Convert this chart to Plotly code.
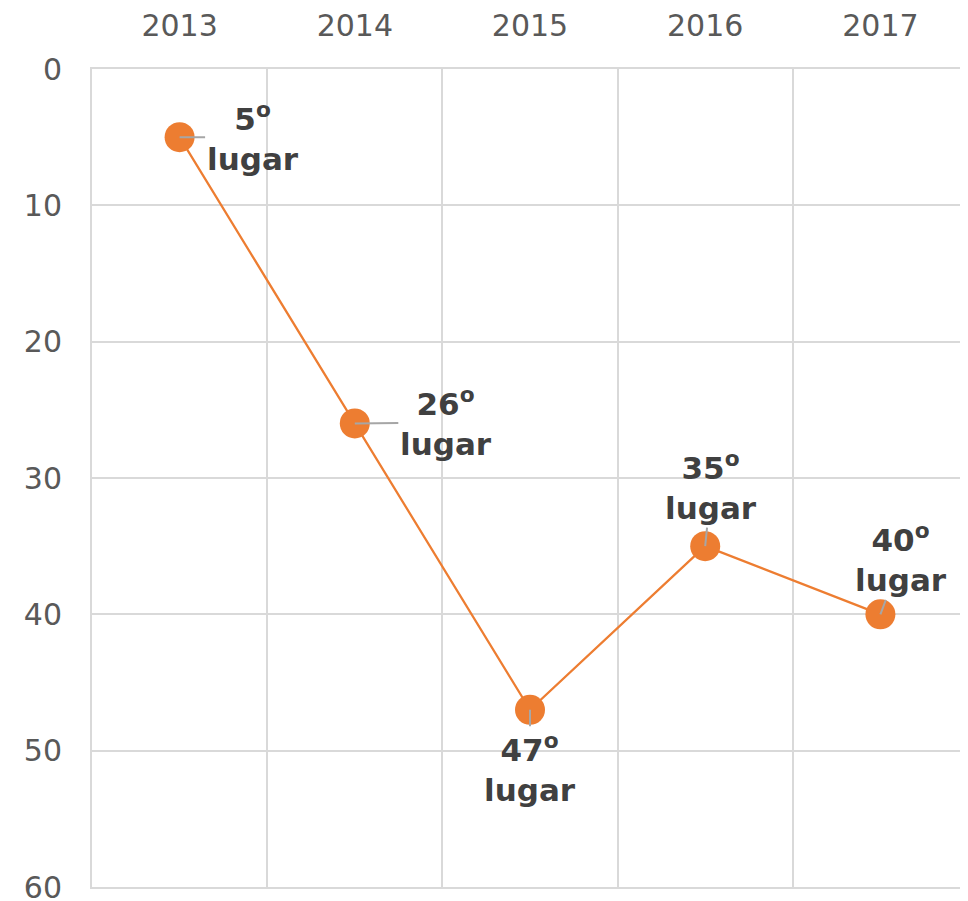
import plotly.graph_objects as go

# ranking por ano
years = ["2013", "2014", "2015", "2016", "2017"]
ranks = [5, 26, 47, 35, 40]
labels = ["5<sup>o</sup><br>lugar", "26<sup>o</sup><br>lugar", "47<sup>o</sup><br>lugar",
          "35<sup>o</sup><br>lugar", "40<sup>o</sup><br>lugar"]
y_ticks = [0, 10, 20, 30, 40, 50, 60]

ORANGE = "#ED7D31"
GRID = "#D9D9D9"
TICK_COLOR = "#595959"
LABEL_COLOR = "#404040"

fig = go.Figure()
fig.add_trace(go.Scatter(
    x=years, y=ranks, mode="lines+markers",
    line=dict(color=ORANGE, width=2.25),
    marker=dict(color=ORANGE, size=30),
    showlegend=False, hoverinfo="skip"))

# label offsets in pixels (leader lines drawn as annotation arrows)
offsets = [(73, 0), (91, -1), (0, 58), (6, -60), (21, -56)]
for i, (r, txt, (ax, ay)) in enumerate(zip(ranks, labels, offsets)):
    fig.add_annotation(
        x=i, y=r, text=txt, showarrow=True, arrowhead=0, arrowwidth=2,
        arrowcolor="#A6A6A6", ax=ax, ay=ay, standoff=0,
        font=dict(family="DejaVu Sans", size=31, color=LABEL_COLOR, weight="bold"),
        align="center")

# page body has an 8px default margin, so the figure is shifted to fit
fig.update_layout(
    width=960, height=893,
    margin=dict(l=84, r=0, t=61, b=14),
    plot_bgcolor="white", paper_bgcolor="white",
    font=dict(family="DejaVu Sans", size=30, color=TICK_COLOR),
    xaxis=dict(
        side="top", type="category", tickson="boundaries",
        range=[-0.5, len(years) - 0.5], tickangle=0, automargin=False,
        showgrid=True, gridcolor=GRID, gridwidth=2,
        ticks="", ticklabelstandoff=19, zeroline=False,
        showline=True, mirror=True, linecolor=GRID, linewidth=2),
    yaxis=dict(
        range=[60, 0], tickvals=y_ticks, showgrid=True, gridcolor=GRID, gridwidth=2,
        showline=True, linecolor=GRID, linewidth=2, ticks="", automargin=False,
        ticklabelstandoff=22, zeroline=False, ticklabeloverflow="allow"),
)

fig.write_html("out.html")
